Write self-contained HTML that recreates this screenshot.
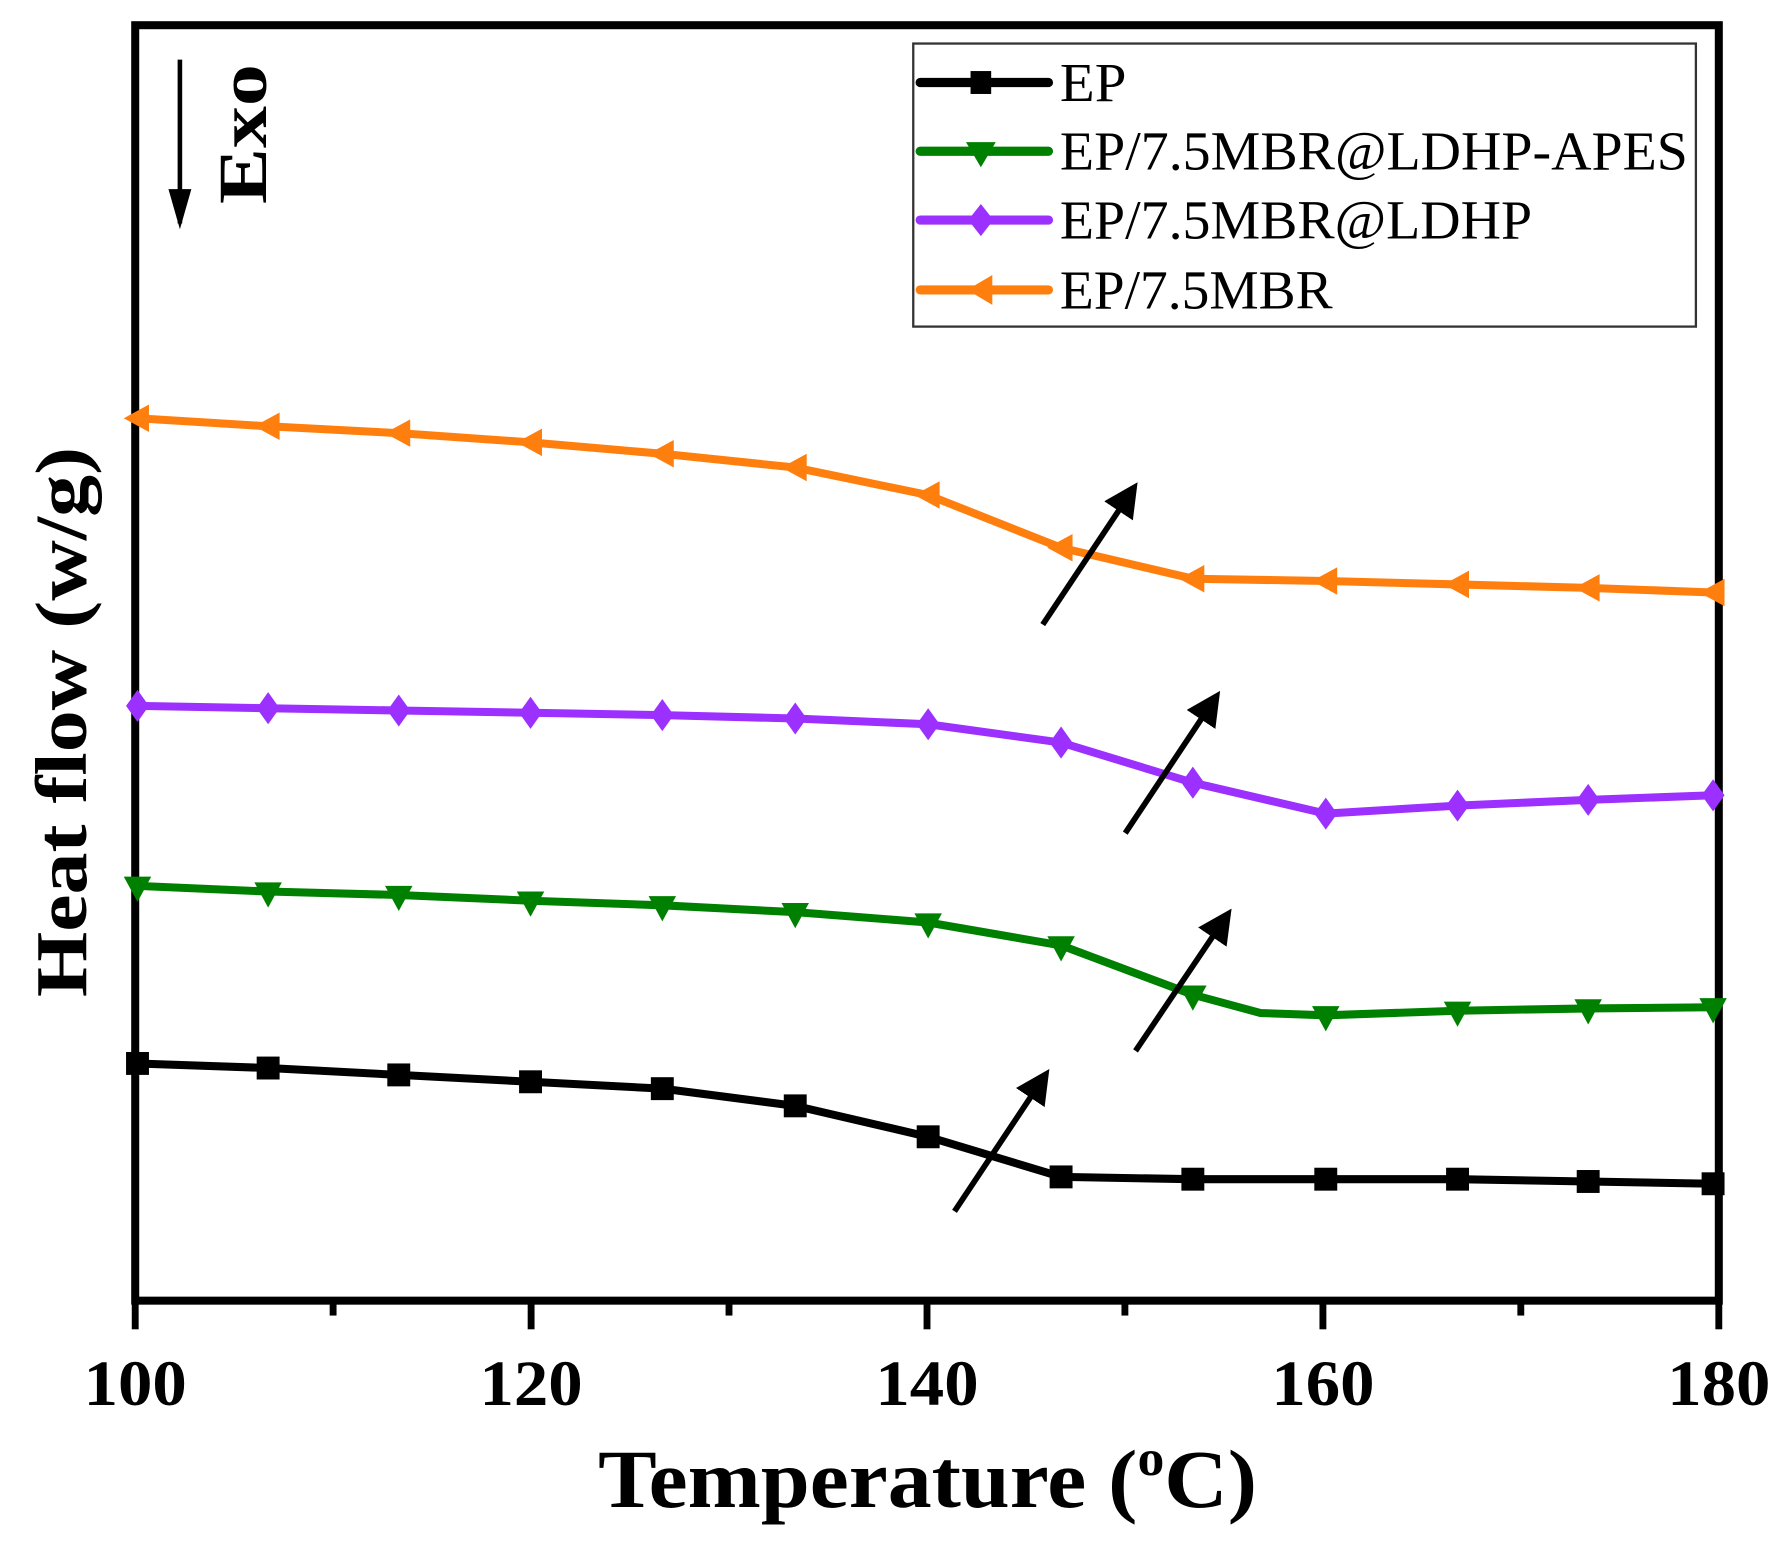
<!DOCTYPE html>
<html><head><meta charset="utf-8"><style>html,body{margin:0;padding:0;background:#fff}svg{display:block}</style></head><body>
<svg width="1791" height="1542" viewBox="0 0 1563 1345.6" preserveAspectRatio="none" xmlns="http://www.w3.org/2000/svg" font-family="Liberation Serif, serif">
<defs>
<marker id="ah" markerWidth="6" markerHeight="6" refX="5" refY="3" orient="auto" markerUnits="strokeWidth"><path d="M0,0 L6,3 L0,6 z" fill="#000"/></marker>
</defs>
<rect x="118" y="22" width="1382" height="1113" fill="none" stroke="#000" stroke-width="7"/>
<g stroke="#000" stroke-width="6">
<line x1="118" y1="1135" x2="118" y2="1160"/><line x1="463.5" y1="1135" x2="463.5" y2="1160"/><line x1="809" y1="1135" x2="809" y2="1160"/><line x1="1154.5" y1="1135" x2="1154.5" y2="1160"/><line x1="1500" y1="1135" x2="1500" y2="1160"/>
<line x1="290.7" y1="1135" x2="290.7" y2="1148"/><line x1="636.2" y1="1135" x2="636.2" y2="1148"/><line x1="981.7" y1="1135" x2="981.7" y2="1148"/><line x1="1327.2" y1="1135" x2="1327.2" y2="1148"/>
</g>
<g font-size="56" font-weight="bold" text-anchor="middle">
<text x="118" y="1226" textLength="90" lengthAdjust="spacingAndGlyphs">100</text><text x="463.5" y="1226" textLength="90" lengthAdjust="spacingAndGlyphs">120</text><text x="809" y="1226" textLength="90" lengthAdjust="spacingAndGlyphs">140</text><text x="1154.5" y="1226" textLength="90" lengthAdjust="spacingAndGlyphs">160</text><text x="1500" y="1226" textLength="90" lengthAdjust="spacingAndGlyphs">180</text>
</g>
<text x="522" y="1315" font-size="72" font-weight="bold" textLength="575" lengthAdjust="spacingAndGlyphs">Temperature (<tspan font-size="44" dy="-28">o</tspan><tspan dy="28">C)</tspan></text>
<text transform="translate(75,630) rotate(-90)" font-size="64" font-weight="bold" text-anchor="middle" textLength="480" lengthAdjust="spacingAndGlyphs">Heat flow (w/g)</text>
<text transform="translate(232,117) rotate(-90)" font-size="60" font-weight="bold" text-anchor="middle" textLength="122" lengthAdjust="spacingAndGlyphs">Exo</text>
<line x1="157" y1="52" x2="157" y2="195" stroke="#000" stroke-width="4"/>
<path d="M147,165 L157,200 L167,165 z" fill="#000"/>
<g fill="none" stroke-width="7" stroke-linejoin="round">
<polyline stroke="#ff7f0e" points="120,365 234,372 348,378 463,386 578,396 694,408 810,432 926,478 1041,505 1157,507 1272,510 1386,513 1495,517"/>
<polyline stroke="#9b30ff" points="120,616 234,618 348,620 463,622 578,624 694,627 810,632 926,648 1041,683 1157,710 1272,703 1386,698 1495,694"/>
<polyline stroke="#008000" points="120,773 234,778 348,781 463,786 578,790 694,796 810,805 926,825 1041,868 1100,884 1157,886 1272,882 1386,880 1495,879"/>
<polyline stroke="#000" points="120,928 234,932 348,938 463,944 578,950 694,965 810,992 926,1027 1041,1029 1157,1029 1272,1029 1386,1031 1495,1033"/>
</g>
<g fill="#ff7f0e">
<path d="M108,365 l22,-12 v24z"/><path d="M222,372 l22,-12 v24z"/><path d="M336,378 l22,-12 v24z"/><path d="M451,386 l22,-12 v24z"/><path d="M566,396 l22,-12 v24z"/><path d="M682,408 l22,-12 v24z"/><path d="M798,432 l22,-12 v24z"/><path d="M914,478 l22,-12 v24z"/><path d="M1029,505 l22,-12 v24z"/><path d="M1145,507 l22,-12 v24z"/><path d="M1260,510 l22,-12 v24z"/><path d="M1374,513 l22,-12 v24z"/><path d="M1483,517 l22,-12 v24z"/>
</g>
<g fill="#9b30ff">
<path d="M120,602 l10,14 -10,14 -10,-14z"/><path d="M234,604 l10,14 -10,14 -10,-14z"/><path d="M348,606 l10,14 -10,14 -10,-14z"/><path d="M463,608 l10,14 -10,14 -10,-14z"/><path d="M578,610 l10,14 -10,14 -10,-14z"/><path d="M694,613 l10,14 -10,14 -10,-14z"/><path d="M810,618 l10,14 -10,14 -10,-14z"/><path d="M926,634 l10,14 -10,14 -10,-14z"/><path d="M1041,669 l10,14 -10,14 -10,-14z"/><path d="M1157,696 l10,14 -10,14 -10,-14z"/><path d="M1272,689 l10,14 -10,14 -10,-14z"/><path d="M1386,684 l10,14 -10,14 -10,-14z"/><path d="M1495,680 l10,14 -10,14 -10,-14z"/>
</g>
<g fill="#008000">
<path d="M108,765 h24 l-12,22z"/><path d="M222,770 h24 l-12,22z"/><path d="M336,773 h24 l-12,22z"/><path d="M451,778 h24 l-12,22z"/><path d="M566,782 h24 l-12,22z"/><path d="M682,788 h24 l-12,22z"/><path d="M798,797 h24 l-12,22z"/><path d="M914,817 h24 l-12,22z"/><path d="M1029,860 h24 l-12,22z"/><path d="M1145,878 h24 l-12,22z"/><path d="M1260,874 h24 l-12,22z"/><path d="M1374,872 h24 l-12,22z"/><path d="M1483,871 h24 l-12,22z"/>
</g>
<g fill="#000">
<rect x="110" y="918" width="20" height="20"/><rect x="224" y="922" width="20" height="20"/><rect x="338" y="928" width="20" height="20"/><rect x="453" y="934" width="20" height="20"/><rect x="568" y="940" width="20" height="20"/><rect x="684" y="955" width="20" height="20"/><rect x="800" y="982" width="20" height="20"/><rect x="916" y="1017" width="20" height="20"/><rect x="1031" y="1019" width="20" height="20"/><rect x="1147" y="1019" width="20" height="20"/><rect x="1262" y="1019" width="20" height="20"/><rect x="1376" y="1021" width="20" height="20"/><rect x="1485" y="1023" width="20" height="20"/>
</g>
<g stroke="#000" stroke-width="5" marker-end="url(#ah)">
<line x1="910" y1="545" x2="990" y2="425"/>
<line x1="982" y1="727" x2="1062" y2="607"/>
<line x1="991" y1="917" x2="1072" y2="797"/>
<line x1="833" y1="1057" x2="913" y2="937"/>
</g>
<rect x="797" y="38" width="683" height="247" fill="#fff" stroke="#333" stroke-width="2"/>
<g stroke-width="8" stroke-linecap="round">
<line x1="803" y1="72" x2="915" y2="72" stroke="#000"/>
<line x1="803" y1="132" x2="915" y2="132" stroke="#008000"/>
<line x1="803" y1="192" x2="915" y2="192" stroke="#9b30ff"/>
<line x1="803" y1="253" x2="915" y2="253" stroke="#ff7f0e"/>
</g>
<rect x="847" y="62" width="18" height="20" fill="#000"/>
<path d="M843,124 h26 l-13,22z" fill="#008000"/>
<path d="M856,178 l11,14 -11,14 -11,-14z" fill="#9b30ff"/>
<path d="M844,253 l22,-13 v26z" fill="#ff7f0e"/>
<g font-size="48">
<text x="925" y="88" textLength="58" lengthAdjust="spacingAndGlyphs">EP</text>
<text x="925" y="148" textLength="548" lengthAdjust="spacingAndGlyphs">EP/7.5MBR@LDHP-APES</text>
<text x="925" y="208" textLength="412" lengthAdjust="spacingAndGlyphs">EP/7.5MBR@LDHP</text>
<text x="925" y="269" textLength="238" lengthAdjust="spacingAndGlyphs">EP/7.5MBR</text>
</g>
</svg>
</body></html>
